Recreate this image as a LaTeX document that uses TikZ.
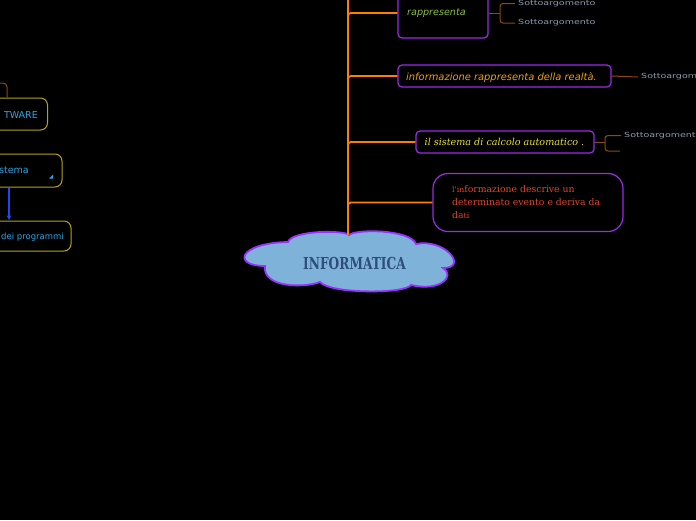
\documentclass[tikz,border=0pt]{standalone}
\usepackage{fontspec}
\setmainfont{DejaVu Sans}
\newfontfamily\dvserif{DejaVu Serif}
\usetikzlibrary{arrows.meta}
\definecolor{trunkc}{HTML}{FF8000}
\definecolor{purpc}{HTML}{9A2BE6}
\definecolor{brownc}{HTML}{8B4A0E}
\definecolor{greenc}{HTML}{8CBF3F}
\definecolor{amberc}{HTML}{EE9E14}
\definecolor{yellc}{HTML}{E6E12A}
\definecolor{redc}{HTML}{E0462F}
\definecolor{subc}{HTML}{8C9DAE}
\definecolor{cloudfill}{HTML}{7FB2D9}
\definecolor{cloudline}{HTML}{9B30FF}
\definecolor{cloudtext}{HTML}{2E4D7A}
\definecolor{cyanc}{HTML}{2BA6E6}
\definecolor{olivec}{HTML}{B5A418}
\definecolor{arrowc}{HTML}{1E4BF0}
\begin{document}
\begin{tikzpicture}[x=1pt,y=-1pt,
  trunk/.style={draw=trunkc,line width=1.8pt},
  pbox/.style={draw=purpc,line width=1.2pt,rounded corners=4pt,inner sep=0pt},
  brownl/.style={draw=brownc,line width=1pt},
  subtxt/.style={text=subc,inner sep=3pt,anchor=west,font=\fontsize{7}{8}\selectfont},
  lbox/.style={draw=olivec,line width=1pt,rounded corners=7pt,inner sep=0pt},
  ltxt/.style={text=cyanc,inner sep=0pt,anchor=east,font=\fontsize{9.5}{11}\selectfont},
]
\useasboundingbox (0,0) rectangle (696,520);
\fill[black] (0,0) rectangle (696,520);
\clip (0,0) rectangle (696,520);

% ---- left boxes
\node[lbox,minimum width=80,minimum height=32] (lb1) at (7.5,114) {};
\node[lbox,minimum width=90,minimum height=33] (lb2) at (17,170.5) {};
\node[lbox,minimum width=100,minimum height=30] (lb3) at (21,236) {};
\node[ltxt] (t1) at (38,115) {TWARE};
\node[ltxt] (t2) at (29,170) {stema};
\node[ltxt,font=\fontsize{8.5}{10}\selectfont] (t3) at (64,237) {dei programmi};
\fill[cyanc] (53,174.5) -- (53,178.5) -- (49,178.5) -- cycle;
\coordinate (lt) at (-2,83);
\draw[brownl,rounded corners=4] (lt) -- (7,83) -- (lb1.north -| 7,0);
\draw[-{Latex[length=5pt,width=5pt]},draw=arrowc,fill=arrowc,line width=1.4pt] (lb2.south -| 9,0) -- (lb3.north -| 9,0);

% ---- cloud
\draw[fill=cloudfill,draw=cloudline,line width=1.8pt]
 (265,266) .. controls (232,266) and (238,243) .. (288,242)
 .. controls (292,230) and (345,230) .. (349,235)
 .. controls (355,229) and (410,229) .. (416,244)
 .. controls (445,238) and (469,268) .. (443,268)
 .. controls (456,276) and (440,292) .. (411,285)
 .. controls (405,294) and (330,294) .. (320,282)
 .. controls (305,288) and (262,288) .. (265,266) -- cycle;
\node[text=cloudtext,inner sep=0pt] (cloud) at (354.5,263) {\scalebox{0.74}[1]{\dvserif\bfseries\fontsize{16.5}{18}\selectfont INFORMATICA}};
\coordinate (cloudtop) at (348,235);
\coordinate (trunktop) at (348,-2);

% ---- right boxes
\node[pbox,minimum width=90,minimum height=50] (rap) at (443,13) {};
\node[text=greenc,anchor=west,inner sep=0pt,font=\fontsize{9.6}{11}\selectfont\itshape] (rapt) at (407,13) {rappresenta};
\node[pbox,minimum width=213,minimum height=22] (inf) at (504.5,76) {};
\node[text=amberc,anchor=west,inner sep=0pt,font=\fontsize{9.9}{11}\selectfont\itshape] (inft) at (406,78) {informazione rappresenta della realtà.};
\node[pbox,minimum width=178,minimum height=22] (sis) at (505,142) {};
\node[text=yellc,anchor=west,inner sep=0pt,font=\dvserif\fontsize{9.6}{11}\selectfont\itshape] (sist) at (424.5,142) {il sistema di calcolo automatico .};
\node[pbox,rounded corners=15pt,minimum width=190,minimum height=58] (red) at (528,202.5) {};
\node[text=redc,anchor=north west,inner sep=0pt,align=left,font=\dvserif\fontsize{9.3}{13}\selectfont] (redt) at (452,185)
 {{\fontsize{7.8}{13}\selectfont l'in}formazione descrive un\\determinato evento e deriva da\\da{\fontsize{7.8}{13}\selectfont ti}};

% ---- trunk
\draw[trunk] (trunktop) -- (cloudtop);
\draw[trunk,rounded corners=3] (348,20) |- (rap.west);
\draw[trunk,rounded corners=3] (348,83) |- (inf.west);
\draw[trunk,rounded corners=3] (348,149) |- (sis.west);
\draw[trunk,rounded corners=3] (348,210) |- (red.west);

% ---- sub topics
\node[subtxt] (s1) at (515,3.5) {\scalebox{1.36}[1]{Sottoargomento}};
\node[subtxt] (s2) at (515,23) {\scalebox{1.36}[1]{Sottoargomento}};
\draw[brownl] (rap.east) -- (500,13);
\draw[brownl,rounded corners=3] (s1.west) -- (500,3.5) -- (500,23) -- (s2.west);
\node[subtxt] (s3) at (638,77) {\scalebox{1.36}[1]{Sottoargomento}};
\draw[brownl] (inf.east) -- (s3.west);
\node[subtxt] (s4) at (621,135.5) {\scalebox{1.36}[1]{Sottoargomento}};
\coordinate (s5) at (620,151);
\draw[brownl] (sis.east) -- (605,142);
\draw[brownl,rounded corners=3] (s4.west) -- (605,135.5) -- (605,151) -- (s5);
\end{tikzpicture}
\end{document}
